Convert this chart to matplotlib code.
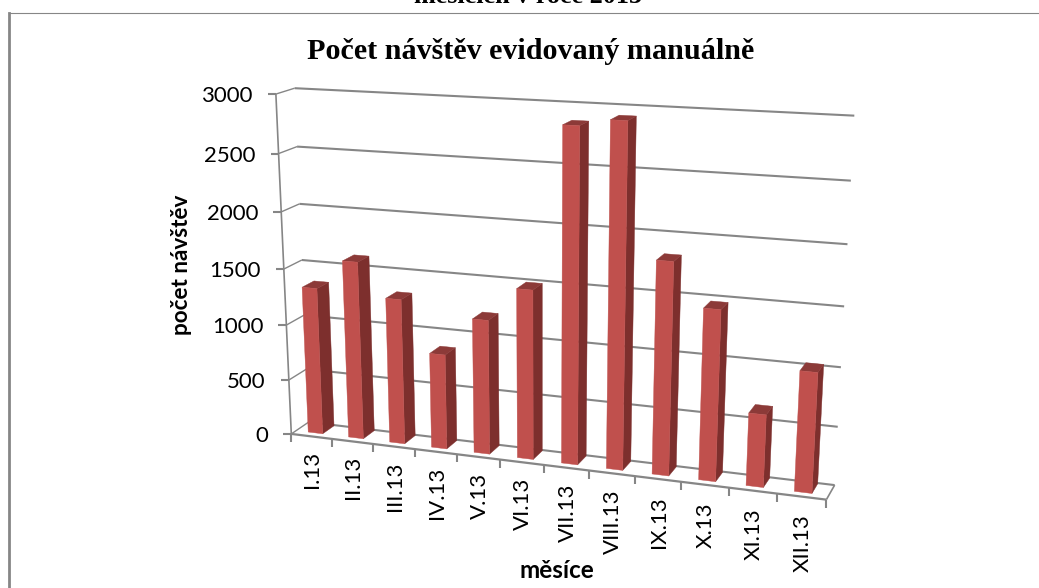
import numpy as np
import matplotlib
matplotlib.use("Agg")
import matplotlib.pyplot as plt
from matplotlib.patches import Polygon

# ? Data
months = ["I.13", "II.13", "III.13", "IV.13", "V.13", "VI.13",
          "VII.13", "VIII.13", "IX.13", "X.13", "XI.13", "XII.13"]
visits = [1325, 1590, 1295, 845, 1185, 1480, 2855, 2915, 1815, 1455, 620, 1015]
value_ticks = [0, 500, 1000, 1500, 2000, 2500, 3000]

VALUE_MAX = 3000
GREY = "#868686"
FRONT = "#C0504D"
SIDE = "#7D2F2D"
TOP = "#8C3A38"

# * Corners of the 3D box: (month, depth, value) and where they land in pixels
box_world = [(0, 0, 0), (12, 0, 0), (0, 1, 0), (12, 1, 0),
             (0, 0, 3000), (0, 1, 3000), (12, 1, 3000)]
box_pixel = [(292, 433.3), (826, 500.7), (308, 422.7), (835, 484),
             (275.5, 93.7), (295, 88.5), (854.3, 115.7)]


def fit_camera(world, pixel):
    """Fit the 3x4 projective camera of the chart box"""
    rows = []
    for (x, y, z), (px, py) in zip(world, pixel):
        p = [x / 12, y, z / VALUE_MAX, 1]
        rows.append(p + [0, 0, 0, 0] + [-px * c for c in p])
        rows.append([0, 0, 0, 0] + p + [-py * c for c in p])
    return np.linalg.svd(np.array(rows))[2][-1].reshape(3, 4)


camera = fit_camera(box_world, box_pixel)


def project(x, y, z):
    """Month position, depth, value to figure pixels"""
    p = camera @ np.array([x / 12, y, z / VALUE_MAX, 1])
    return p[0] / p[2], p[1] / p[2]


def line(ax, a, b, width=1.5, color=GREY):
    ax.plot([a[0], b[0]], [a[1], b[1]], color=color, lw=width,
            solid_capstyle="butt", zorder=2)


def face(ax, points, color, zorder):
    ax.add_patch(Polygon([project(*p) for p in points], closed=True,
                         fc=color, ec=color, lw=0.3, zorder=zorder))


def main():
    fig = plt.figure(figsize=(10.39, 5.88), dpi=100)
    ax = fig.add_axes([0, 0, 1, 1])
    ax.set_xlim(0, 1039)
    ax.set_ylim(588, 0)
    ax.axis("off")

    # * Outer frame of the chart
    ax.plot([1039, 8.5], [13.3, 13.3], color=GREY, lw=0.8)
    ax.plot([8.5, 8.5], [13.3, 588], color=GREY, lw=2)

    # * Caption cut by the top of the page, and the titles
    ax.text(528, 3, "měsících v roce 2013", family="Liberation Serif",
            weight="bold", fontsize=18.8, ha="center", va="baseline")
    ax.text(531, 59, "Počet návštěv evidovaný manuálně",
            family="Liberation Serif", weight="bold", fontsize=21.7,
            ha="center", va="baseline")
    ax.text(181, 265, "počet návštěv", family="Lato", weight="bold",
            fontsize=16.2, rotation=90, ha="center", va="center")
    ax.text(557, 571, "měsíce", family="Lato", weight="bold",
            fontsize=17.5, ha="center", va="center")

    # * Gridlines on the side wall and back wall, with the value axis
    for val in value_ticks:
        left = project(0, 0, val)
        back = project(0, 1, val)
        line(ax, (left[0] - 8, left[1]), left)
        line(ax, left, back, 1.0)
        line(ax, back, project(12, 1, val))
        ax.text(left[0] - 23, left[1] + 2, str(val), family="Lato", fontsize=16,
                ha="right", va="center", color="black")
    line(ax, project(0, 0, 0), project(0, 0, VALUE_MAX), 1.2)

    # * Floor outline
    line(ax, project(0, 0, 0), project(12, 0, 0), 1.6)
    line(ax, project(12, 0, 0), project(12, 1, 0), 1.2)

    # * Month ticks and labels
    for i, name in enumerate(months):
        tick = project(i, 0, 0)
        line(ax, tick, (tick[0], tick[1] + 8))
        mid = project(i + 0.5, 0, 0)
        ax.text(mid[0] + 1, mid[1] + 14 + 4 * i / 11, name,
                family="Lato", fontsize=16, rotation=90,
                ha="center", va="top", color="black")
    tick = project(12, 0, 0)
    line(ax, tick, (tick[0], tick[1] + 8))

    # ! Bars: front, right side and top of each box
    u0, u1 = 0.3, 0.66
    d0, d1 = 0.28, 0.95
    for i, val in enumerate(visits):
        x0, x1 = i + u0, i + u1
        z = 3 + i
        face(ax, [(x1, d0, 0), (x1, d1, 0), (x1, d1, val), (x1, d0, val)], SIDE, z)
        face(ax, [(x0, d0, val), (x1, d0, val), (x1, d1, val), (x0, d1, val)], TOP, z)
        face(ax, [(x0, d0, 0), (x1, d0, 0), (x1, d0, val), (x0, d0, val)], FRONT, z)

    fig.savefig("out.png", dpi=100)


if __name__ == "__main__":
    main()
